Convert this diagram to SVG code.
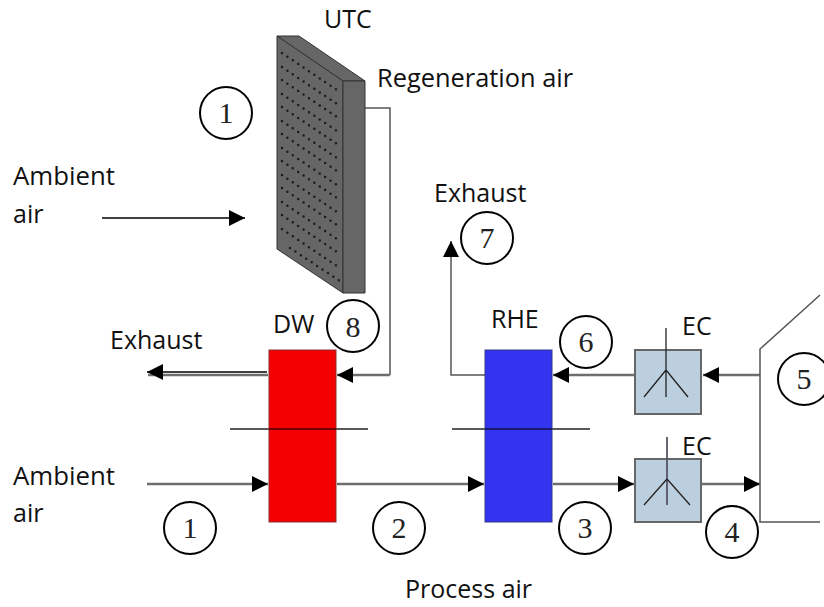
<svg xmlns="http://www.w3.org/2000/svg" width="824" height="607" viewBox="0 0 824 607">
<defs>
<marker id="ah" markerUnits="userSpaceOnUse" markerWidth="17" markerHeight="17" refX="16" refY="8" orient="auto"><path d="M0,0 L16,8 L0,16Z" fill="#000"/></marker>
</defs>
<style>
text{font-family:"Open Sans","Noto Sans",sans-serif;font-size:25px;fill:#111}
.num{font-family:"Liberation Serif",serif;font-size:30px;text-anchor:middle;fill:#222}
.c{fill:#fff;stroke:#000;stroke-width:2}
.f{stroke:#6e6e6e;stroke-width:2.500;fill:none}
.t{stroke:#555;stroke-width:1.500;fill:none}
.k{stroke:#222;stroke-width:1.300;fill:none}
.fc{fill:#666;stroke:#333;stroke-width:1}
.d{stroke:#1c1c1c;stroke-width:2.500;stroke-linecap:round;stroke-dasharray:0 6.500;fill:none}
.ec{fill:#bccfdf;stroke:#666;stroke-width:2}
</style>
<rect width="824" height="607" fill="#fff"/>
<g id="connectors">
<path d="M102,218 H245" stroke="#000" stroke-width="1.500" fill="none" marker-end="url(#ah)"/>
<path class="t" d="M364,108 H390 V375"/>
<path class="f" d="M390,375 H337" marker-end="url(#ah)"/>
<path class="f" d="M268,375 H148"/>
<path d="M267,372 H147" stroke="#000" stroke-width="1.500" fill="none" marker-end="url(#ah)"/>
<path class="f" d="M147,484 H268" marker-end="url(#ah)"/>
<path class="f" d="M337,484 H484" marker-end="url(#ah)"/>
<path class="f" d="M553,484 H634" marker-end="url(#ah)"/>
<path class="f" d="M702,484 H760" marker-end="url(#ah)"/>
<path class="f" d="M760,375 H703" marker-end="url(#ah)"/>
<path class="f" d="M634,375 H553" marker-end="url(#ah)"/>
<path class="t" d="M485,375 H451 V241" marker-end="url(#ah)"/>
<path class="k" d="M230,429 H368"/>
<path class="k" d="M452,429 H590"/>
<path class="t" d="M820,295 L760,349 V522 H820"/>
</g>
<g id="utc">
<path class="fc" d="M277,36 H299 L365,81 H343Z"/>
<path class="fc" d="M277,36 L343,81 V293 L277,249Z"/>
<path class="fc" d="M343,81 H365 V293 H343Z"/>
<path class="d" d="M282,53 L340,92M282,67 L340,106M282,80 L340,119M282,94 L340,133M282,107 L340,146M282,121 L340,160M282,134 L340,173M282,148 L340,187M282,161 L340,200M282,175 L340,214M282,188 L340,227M282,202 L340,241M282,215 L340,254M282,229 L340,268M290,248 L340,281"/>
<text x="324" y="28">UTC</text>
<text x="377" y="87" style="font-size:25.400px">Regeneration air</text>
</g>
<g id="dw">
<rect x="269" y="350" width="67" height="172" fill="#f40000" stroke="#8a3030" stroke-width="1"/>
<path d="M269,429 H336" stroke="#400" stroke-width="1.300"/>
<text x="273" y="333">DW</text>
</g>
<g id="rhe">
<rect x="485" y="350" width="67" height="172" fill="#3333f0" stroke="#333a88" stroke-width="1"/>
<path d="M485,429 H552" stroke="#114" stroke-width="1.300"/>
<text x="491" y="328">RHE</text>
</g>
<g id="ec1">
<rect x="635" y="350" width="66" height="64" class="ec"/>
<path class="k" d="M666,328 V397M666,370 L644,397M666,370 L688,397"/>
<text x="682" y="335">EC</text>
</g>
<g id="ec2">
<rect x="635" y="459" width="66" height="63" class="ec"/>
<path d="M667,437 V505" stroke="#556" stroke-width="1.800"/>
<path class="k" d="M667,479 L644,505M667,479 L690,505"/>
<text x="682" y="455">EC</text>
</g>
<g id="labels">
<text x="13" y="185" style="font-size:25.800px">Ambient</text><text x="13" y="223">air</text>
<text x="13" y="485" style="font-size:25.800px">Ambient</text><text x="13" y="522">air</text>
<text x="434" y="202">Exhaust</text>
<text x="110" y="349">Exhaust</text>
<text x="405" y="598">Process air</text>
</g>
<g id="n1a"><circle class="c" cx="226" cy="113" r="26"/><text class="num" x="226" y="123">1</text></g>
<g id="n7"><circle class="c" cx="487" cy="238" r="26"/><text class="num" x="487" y="248">7</text></g>
<g id="n8"><circle class="c" cx="353" cy="326" r="26"/><text class="num" x="353" y="337">8</text></g>
<g id="n6"><circle class="c" cx="586" cy="342" r="26"/><text class="num" x="586" y="352">6</text></g>
<g id="n5"><circle class="c" cx="804" cy="379" r="26"/><text class="num" x="804" y="389">5</text></g>
<g id="n1b"><circle class="c" cx="190" cy="528" r="26"/><text class="num" x="190" y="538">1</text></g>
<g id="n2"><circle class="c" cx="399" cy="528" r="26"/><text class="num" x="399" y="538">2</text></g>
<g id="n3"><circle class="c" cx="585" cy="528" r="26"/><text class="num" x="585" y="538">3</text></g>
<g id="n4"><circle class="c" cx="732" cy="532" r="26"/><text class="num" x="732" y="542">4</text></g>
</svg>
